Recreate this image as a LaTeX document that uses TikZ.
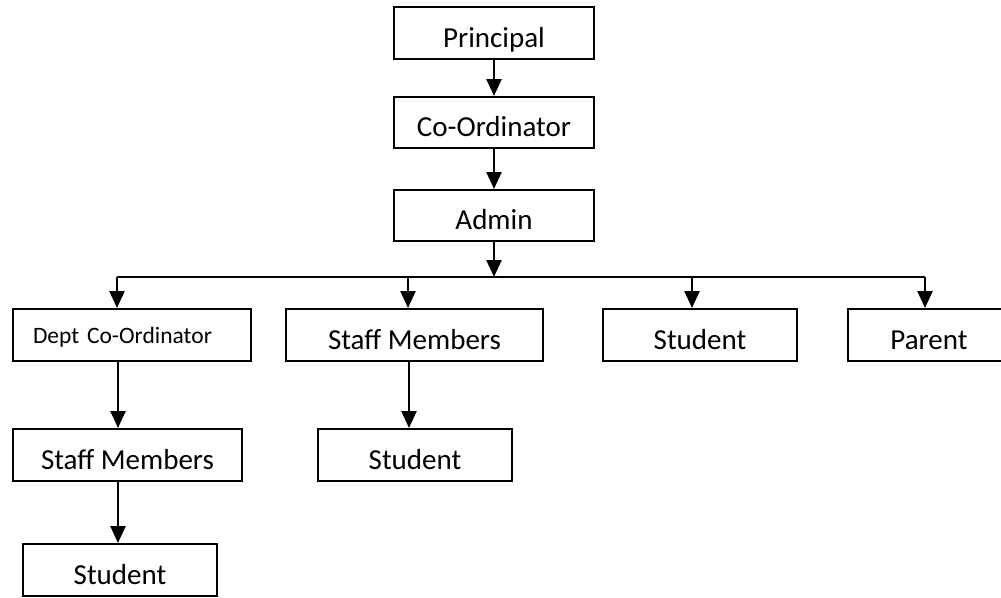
\documentclass[tikz,border=0pt]{standalone}
\usepackage{fontspec}
\setmainfont{Carlito}
\usetikzlibrary{arrows.meta}
\begin{document}
\begin{tikzpicture}[x=1pt,y=-1pt,
  box/.style={draw=black,line width=2pt,rectangle,inner sep=0pt,
    font=\fontsize{29}{30}\selectfont,text height=28pt,text depth=0pt},
  arr/.style={line width=2.5pt,-{Triangle[length=17pt,width=15pt]}},
  bus/.style={line width=2.3pt}]
\useasboundingbox (0,0) rectangle (1001,597);
% top column
\node[box,minimum width=200pt,minimum height=52pt] (principal) at (494,33) {Principal};
\node[box,minimum width=200pt,minimum height=51pt] (coord) at (494,122.5) {Co-Ordinator};
\node[box,minimum width=200pt,minimum height=51pt] (admin) at (494,215.5) {Admin};
% second row
\node[box,minimum width=238pt,minimum height=52pt,text width=198pt,align=left,
  inner xsep=20pt,font=\fontsize{23.5}{24}\selectfont,text height=16pt] (dept) at (132,335) {Dept Co-Ordinator};
\node[box,minimum width=257pt,minimum height=52pt] (staffm) at (414.5,335) {Staff Members};
\node[box,minimum width=194pt,minimum height=52pt] (student1) at (700,335) {Student};
\node[box,minimum width=162pt,minimum height=52pt] (parent) at (929,335) {Parent};
% third row
\node[box,minimum width=229pt,minimum height=52pt] (staffl) at (127.5,455) {Staff Members};
\node[box,minimum width=194pt,minimum height=52pt] (student2) at (415,455) {Student};
% fourth row
\node[box,minimum width=194pt,minimum height=52pt] (student3) at (120,570) {Student};
% bus coordinates
\coordinate (j1) at (117,277);
\coordinate (j2) at (408,277);
\coordinate (j3) at (692,277);
\coordinate (j4) at (925,277);
\coordinate (c1) at (118,0);
\coordinate (c2) at (409,0);
% connectors
\draw[arr] (principal.south) -- (coord.north);
\draw[arr] (coord.south) -- (admin.north);
\draw[bus] (j1) -- (j4);
\draw[arr] (admin.south) -- (admin.south |- j1);
\draw[arr] (j1) -- (j1 |- dept.north);
\draw[arr] (j2) -- (j2 |- staffm.north);
\draw[arr] (j3) -- (j3 |- student1.north);
\draw[arr] (j4) -- (j4 |- parent.north);
\draw[arr] (dept.south -| c1) -- (staffl.north -| c1);
\draw[arr] (staffl.south -| c1) -- (student3.north -| c1);
\draw[arr] (staffm.south -| c2) -- (student2.north -| c2);
\end{tikzpicture}
\end{document}
